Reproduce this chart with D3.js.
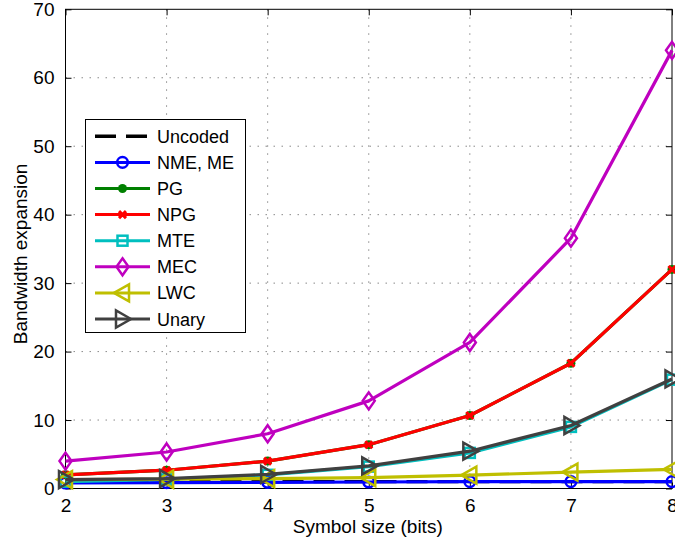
<!DOCTYPE html>
<html>
<head>
<meta charset="utf-8">
<script src="https://cdn.jsdelivr.net/npm/d3@7"></script>
<style>
  html, body { margin: 0; padding: 0; background: #fff; }
  svg { display: block; font-family: "Liberation Sans", Arial, Helvetica, sans-serif; }
</style>
</head>
<body>
<svg id="chart" width="675" height="545"></svg>
<script>
// Symbol size in bits
const symbolSizes = [2, 3, 4, 5, 6, 7, 8];

// Bandwidth expansion of each scheme
const uncoded = [1, 1, 1, 1, 1, 1, 1];
const nmeMe   = [0.8, 0.85, 0.9, 0.95, 1, 1, 1];
const pg      = [2, 2.67, 4, 6.4, 10.67, 18.29, 32];
const npg     = [2, 2.67, 4, 6.4, 10.67, 18.29, 32];
const mte     = [1, 1.33, 2, 3.2, 5.2, 9.0, 15.9];
const mec     = [4, 5.33, 8, 12.8, 21.33, 36.57, 64];
const lwc     = [1.3, 1.35, 1.45, 1.6, 1.95, 2.4, 2.8];
const unary   = [1.3, 1.45, 2.05, 3.3, 5.45, 9.2, 16];

const xTicks = [2, 3, 4, 5, 6, 7, 8];
const yTicks = [0, 10, 20, 30, 40, 50, 60, 70];

const series = [
  { name: "Uncoded", values: uncoded, color: "#000000", marker: "none", dash: "21,10" },
  { name: "NME, ME", values: nmeMe,   color: "#0000ff", marker: "circle" },
  { name: "PG",      values: pg,      color: "#008000", marker: "dot" },
  { name: "NPG",     values: npg,     color: "#ff0000", marker: "x" },
  { name: "MTE",     values: mte,     color: "#00bfbf", marker: "square" },
  { name: "MEC",     values: mec,     color: "#bf00bf", marker: "diamond" },
  { name: "LWC",     values: lwc,     color: "#bfbf00", marker: "left" },
  { name: "Unary",   values: unary,   color: "#404040", marker: "right" }
];

const svg = d3.select("#chart");
const plotLeft = 65.5, plotRight = 672, plotTop = 9.3, plotBottom = 488.5;

const x = d3.scaleLinear().domain([2, 8]).range([plotLeft, plotRight]);
const y = d3.scaleLinear().domain([0, 70]).range([plotBottom, plotTop]);

// Dotted grid
const grid = svg.append("g").attr("stroke", "#8a8a8a").attr("stroke-width", 1)
  .attr("stroke-dasharray", "1.5,6.5");
grid.selectAll("line.gx").data(xTicks.slice(1, -1)).join("line").attr("class", "gx")
  .attr("x1", d => x(d)).attr("x2", d => x(d)).attr("y1", plotTop).attr("y2", plotBottom);
grid.selectAll("line.gy").data(yTicks.slice(1, -1)).join("line").attr("class", "gy")
  .attr("y1", d => y(d)).attr("y2", d => y(d)).attr("x1", plotLeft).attr("x2", plotRight);

// Axes with inward ticks on all four sides
const tickLen = 6;
const axisFont = 19;
const styleText = g => g.selectAll("text").attr("font-size", axisFont).attr("fill", "#000")
  .attr("font-family", "Liberation Sans, Arial, sans-serif");
svg.append("g").attr("transform", `translate(0,${plotBottom})`)
  .call(d3.axisBottom(x).tickValues(xTicks).tickFormat(d3.format("d"))
    .tickSizeInner(-tickLen).tickSizeOuter(0).tickPadding(10))
  .call(g => g.select(".domain").remove())
  .call(styleText);
svg.append("g").attr("transform", `translate(0,${plotTop})`)
  .call(d3.axisTop(x).tickValues(xTicks).tickSizeInner(-tickLen).tickSizeOuter(0).tickFormat(""))
  .call(g => g.select(".domain").remove());
svg.append("g").attr("transform", `translate(${plotLeft},0)`)
  .call(d3.axisLeft(y).tickValues(yTicks).tickFormat(d3.format("d"))
    .tickSizeInner(-tickLen).tickSizeOuter(0).tickPadding(11))
  .call(g => g.select(".domain").remove())
  .call(styleText);
svg.append("g").attr("transform", `translate(${plotRight},0)`)
  .call(d3.axisRight(y).tickValues(yTicks).tickSizeInner(-tickLen).tickSizeOuter(0).tickFormat(""))
  .call(g => g.select(".domain").remove());

svg.append("rect").attr("x", plotLeft).attr("y", plotTop)
  .attr("width", plotRight - plotLeft).attr("height", plotBottom - plotTop)
  .attr("fill", "none").attr("stroke", "#000").attr("stroke-width", 1);

// Axis titles
svg.append("text").attr("x", (plotLeft + plotRight) / 2 - 1).attr("y", 533)
  .attr("text-anchor", "middle").attr("font-size", 19).text("Symbol size (bits)");
svg.append("text").attr("transform", `translate(26.5,${(plotTop + plotBottom) / 2 + 5}) rotate(-90)`)
  .attr("text-anchor", "middle").attr("font-size", 19).text("Bandwidth expansion");

// Marker drawing
function drawMarker(g, type, color, cx, cy) {
  const sw = 2.5;
  if (type === "circle") {
    g.append("circle").attr("cx", cx).attr("cy", cy).attr("r", 5.3)
      .attr("fill", "none").attr("stroke", color).attr("stroke-width", sw);
  } else if (type === "dot") {
    g.append("circle").attr("cx", cx).attr("cy", cy).attr("r", 4.5).attr("fill", color);
  } else if (type === "x") {
    const s = 3.5;
    g.append("path").attr("d", `M${cx - s},${cy - s}L${cx + s},${cy + s}M${cx - s},${cy + s}L${cx + s},${cy - s}`)
      .attr("stroke", color).attr("stroke-width", 3).attr("fill", "none");
  } else if (type === "square") {
    g.append("rect").attr("x", cx - 5).attr("y", cy - 5).attr("width", 10).attr("height", 10)
      .attr("fill", "none").attr("stroke", color).attr("stroke-width", sw);
  } else if (type === "diamond") {
    g.append("path").attr("d", `M${cx},${cy - 8.5}L${cx + 6},${cy}L${cx},${cy + 8.5}L${cx - 6},${cy}Z`)
      .attr("fill", "none").attr("stroke", color).attr("stroke-width", sw);
  } else if (type === "left") {
    g.append("path").attr("d", `M${cx - 8.5},${cy}L${cx + 6.5},${cy - 8.5}L${cx + 6.5},${cy + 8.5}Z`)
      .attr("fill", "none").attr("stroke", color).attr("stroke-width", sw);
  } else if (type === "right") {
    g.append("path").attr("d", `M${cx + 8.5},${cy}L${cx - 6.5},${cy - 8.5}L${cx - 6.5},${cy + 8.5}Z`)
      .attr("fill", "none").attr("stroke", color).attr("stroke-width", sw);
  }
}

// Series lines and markers
const line = d3.line().x((d, i) => x(symbolSizes[i])).y(d => y(d));
const plot = svg.append("g");
series.forEach(s => {
  const g = plot.append("g");
  g.append("path").datum(s.values).attr("d", line)
    .attr("fill", "none").attr("stroke", s.color).attr("stroke-width", 3.2)
    .attr("stroke-dasharray", s.dash || null).attr("stroke-linejoin", "round");
  s.values.forEach((v, i) => drawMarker(g, s.marker, s.color, x(symbolSizes[i]), y(v)));
});

// Legend
const lg = svg.append("g");
lg.append("rect").attr("x", 85.5).attr("y", 119.5).attr("width", 160).attr("height", 213)
  .attr("fill", "#fff").attr("stroke", "#000").attr("stroke-width", 1);
series.forEach((s, i) => {
  const ly = 136.3 + i * 26.1;
  lg.append("line").attr("x1", 95).attr("x2", 150).attr("y1", ly).attr("y2", ly)
    .attr("stroke", s.color).attr("stroke-width", s.dash ? 3.5 : 3)
    .attr("stroke-dasharray", s.dash || null);
  drawMarker(lg, s.marker, s.color, 122.5, ly);
  lg.append("text").attr("x", 157).attr("y", ly + 6.5).attr("font-size", 18).text(s.name);
});
</script>
</body>
</html>
